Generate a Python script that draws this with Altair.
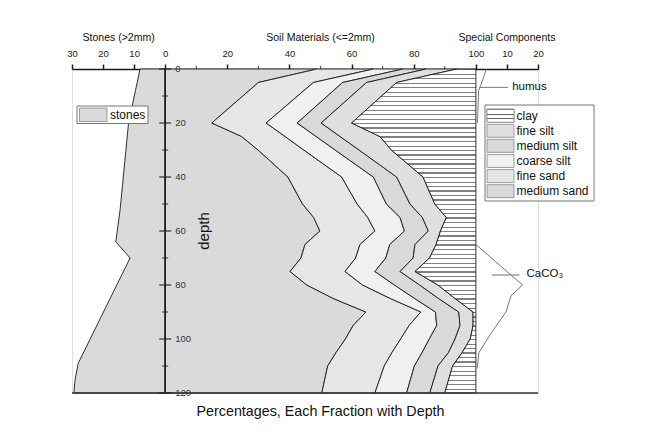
import altair as alt
import pandas as pd

# ---------------- data ----------------
depth = [0, 5, 20, 25, 30, 40, 50, 55, 60, 65, 70, 75, 80, 85, 90, 95, 100, 105, 110, 120]
# cumulative upper boundary (%) of each soil fraction
medium_sand_top = [48.8, 30.0, 15.0, 24.6, 29.9, 39.5, 44.2, 47.8, 49.8, 45.0, 43.7, 40.2, 45.6, 54.1, 64.6, 60.5, 58.0, 55.0, 52.3, 50.4]
fine_sand_top   = [67.0, 47.7, 32.5, 38.6, 44.6, 56.8, 61.8, 65.2, 67.5, 62.7, 61.3, 57.9, 63.5, 72.5, 82.3, 78.5, 75.8, 73.0, 70.5, 67.5]
coarse_silt_top = [76.5, 57.1, 42.5, 48.6, 54.7, 67.0, 71.2, 75.6, 77.0, 72.3, 71.0, 67.5, 73.8, 80.3, 87.0, 87.4, 85.0, 82.7, 80.2, 77.7]
medium_silt_top = [84.0, 64.8, 50.2, 56.3, 62.4, 74.5, 78.8, 82.8, 84.7, 80.4, 79.8, 75.6, 81.9, 88.0, 94.5, 94.9, 93.3, 91.2, 87.8, 85.2]
fine_silt_top   = [93.8, 74.5, 60.0, 69.1, 72.8, 83.0, 86.8, 90.5, 88.6, 87.2, 85.1, 80.4, 87.8, 93.3, 99.1, 99.1, 98.2, 95.6, 92.5, 90.0]
clay_top        = [100] * len(depth)

fractions = ["medium sand", "fine sand", "coarse silt", "medium silt", "fine silt", "clay"]
legend_order = ["clay", "fine silt", "medium silt", "coarse silt", "fine sand", "medium sand"]

stone_depth = [0, 20, 52, 64, 70, 80, 109, 115, 120]
stone_pct   = [8.1, 11.8, 14.5, 15.9, 11.3, 15.6, 28.0, 29.0, 29.4]

humus_depth = [0, 6, 8, 20]
humus_val   = [3.4, 1.6, 0.9, 0.5]

caco3_depth = [65, 80, 84, 90, 98, 105, 111]
caco3_val   = [0.0, 15.0, 11.3, 9.7, 4.8, 1.0, 0.4]

depth_major = [0, 20, 40, 60, 80, 100, 120]
depth_minor = [10, 30, 50, 70, 90, 110]
top_major = [-30, -20, -10, 0, 20, 40, 60, 80, 100, 110, 120]
top_minor = [10, 30, 50, 70, 90]

# ---------------- tables ----------------
rows = []
prev = [0] * len(depth)
for name, top in zip(fractions, [medium_sand_top, fine_sand_top, coarse_silt_top,
                                 medium_silt_top, fine_silt_top, clay_top]):
    for d, lo, hi in zip(depth, prev, top):
        rows.append({"fraction": name, "depth": d, "lo": lo, "hi": hi})
    prev = top
soil = pd.DataFrame(rows)
stones = pd.DataFrame({"depth": stone_depth, "pct": stone_pct})
humus = pd.DataFrame({"depth": humus_depth, "v": humus_val})
caco3 = pd.DataFrame({"depth": caco3_depth, "v": caco3_val})

FONT = "Liberation Sans"
INK = "#1a1a1a"

xs = alt.Scale(domain=[-30, 120], nice=False, zero=False)
ys = alt.Scale(domain=[0, 120], reverse=True, nice=False, zero=False)

STONE_FILL = "#dadada"
fill_colors = [STONE_FILL, "#e6e6e6", "#f0f0f0", "#d9d9d9", "#dfdfdf", "#ffffff"]
fill_scale = alt.Scale(domain=fractions, range=fill_colors)


def stripes(n, frac, line="#808080", bg="#ffffff"):
    stops = []
    for k in range(n):
        a = k / n
        b = (k + frac) / n
        c = (k + 1) / n
        stops += [alt.GradientStop(color=line, offset=a), alt.GradientStop(color=line, offset=b),
                  alt.GradientStop(color=bg, offset=b), alt.GradientStop(color=bg, offset=c)]
    return alt.LinearGradient(gradient="linear", stops=stops, x1=0, x2=0, y1=0, y2=1)


def X(field=None, datum=None, **kw):
    if datum is not None:
        return alt.X(datum=datum, scale=xs, axis=None)
    return alt.X(field, scale=xs, axis=None, **kw)


def Y(field=None, datum=None):
    if datum is not None:
        return alt.Y(datum=datum, scale=ys, axis=None)
    return alt.Y(field, scale=ys, axis=None)


one = pd.DataFrame({"a": [0]})

top_axis = alt.Axis(orient="top", values=top_major,
                    labelExpr="datum.value < 0 ? -datum.value : (datum.value > 100 ? datum.value - 100 : datum.value)",
                    tickSize=5, tickWidth=1.5, tickColor=INK, domainColor=INK, domainWidth=1.5,
                    labelFontSize=9.5, labelPadding=6, labelColor="#222", title=None, grid=False,
                    labelFlush=False, labelOverlap=False, labelFont=FONT)

# stones area (drawn to the left of 0)
stones_area = alt.Chart(stones).transform_calculate(lo="-datum.pct", hi="0").mark_area(
    orient="horizontal", fill=STONE_FILL, stroke=INK, strokeWidth=0.9
).encode(
    x=alt.X("lo:Q", scale=xs, axis=top_axis, stack=None),
    x2="hi:Q",
    y=Y("depth:Q"),
)

soil_areas = alt.Chart(soil).transform_filter("datum.fraction != 'clay'").mark_area(
    orient="horizontal", stroke=INK, strokeWidth=0.9
).encode(
    x=X("lo:Q", stack=None),
    x2="hi:Q",
    y=Y("depth:Q"),
    fill=alt.Fill("fraction:N", scale=fill_scale, legend=None),
)

clay_area = alt.Chart(soil).transform_filter("datum.fraction == 'clay'").mark_area(
    orient="horizontal", fill=stripes(72, 0.27), stroke=INK, strokeWidth=0.9
).encode(
    x=X("lo:Q", stack=None),
    x2="hi:Q",
    y=Y("depth:Q"),
)

# depth axis drawn at soil 0
depth_line = alt.Chart(one).mark_rule(color=INK, strokeWidth=1.5).encode(
    x=X(datum=0), y=Y(datum=0), y2=alt.Y2(datum=120))
bottom_line = alt.Chart(one).mark_rule(color="#333", strokeWidth=1.5).encode(
    y=Y(datum=120), x=X(datum=-30), x2=alt.X2(datum=120))

dmaj = pd.DataFrame({"d": depth_major})
dmin = pd.DataFrame({"d": depth_minor})
tmin = pd.DataFrame({"v": top_minor})

depth_ticks = alt.Chart(dmaj).mark_tick(orient="horizontal", size=12, thickness=1.5, color=INK).encode(
    x=X(datum=0), y=Y("d:Q"))
depth_minor_ticks = alt.Chart(dmin).mark_tick(orient="horizontal", size=6, thickness=1.3, color=INK).encode(
    x=X(datum=0), y=Y("d:Q"))
depth_labels = alt.Chart(dmaj).mark_text(align="left", baseline="middle", dx=10, fontSize=9.5,
                                         color="#333", font=FONT).encode(
    x=X(datum=0), y=Y("d:Q"), text="d:Q")
top_minor_ticks = alt.Chart(tmin).mark_tick(orient="vertical", size=3, thickness=1.2, yOffset=-1.5,
                                            color=INK).encode(x=X("v:Q"), y=Y(datum=0))

# special components
humus_line = alt.Chart(humus).transform_calculate(x="100 + datum.v").mark_line(
    color="#777", strokeWidth=1).encode(x=X("x:Q"), y=Y("depth:Q"), order="depth:Q")
caco3_line = alt.Chart(caco3).transform_calculate(x="100 + datum.v").mark_line(
    color="#777", strokeWidth=1).encode(x=X("x:Q"), y=Y("depth:Q"), order="depth:Q")

humus_leader = alt.Chart(one).mark_rule(color="#777", strokeWidth=1).encode(
    x=X(datum=101.1), x2=alt.X2(datum=110.4), y=Y(datum=6.8))
caco3_leader = alt.Chart(one).mark_rule(color="#888", strokeWidth=1.2).encode(
    x=X(datum=105.1), x2=alt.X2(datum=114.0), y=Y(datum=76.3))


def text(t, x, y, size, **kw):
    return alt.Chart(pd.DataFrame({"t": [t]})).mark_text(fontSize=size, font=FONT, color="#111", **kw).encode(
        x=X(datum=x), y=Y(datum=y), text="t:N")


humus_txt = text("humus", 111.7, 6.8, 11.5, align="left", baseline="middle")
caco3_txt = text("CaCO\u2083", 116.3, 76.0, 11.5, align="left", baseline="middle")
title_st = text("Stones (>2mm)", -15, -11.4, 10.5, align="center", baseline="middle")
title_so = text("Soil Materials (<=2mm)", 50, -11.4, 10.5, align="center", baseline="middle")
title_sp = text("Special Components", 110, -11.4, 10.5, align="center", baseline="middle")
depth_title = text("depth", 12.5, 60, 15, align="center", baseline="middle", angle=270)
bottom_title = text("Percentages, Each Fraction with Depth", 50, 126.9, 14.3, align="center", baseline="middle")

# soil legend (pixel placement inside the plot group)
leg = pd.DataFrame({"name": legend_order, "i": list(range(len(legend_order)))})
leg_box = alt.Chart(one).mark_rect(fill="white", stroke="#777", strokeWidth=1).encode(
    x=alt.value(413), x2=alt.value(522), y=alt.value(36), y2=alt.value(132))
leg_base = alt.Chart(leg).transform_calculate(
    y0="40.2 + datum.i * 15.1", y1="53.2 + datum.i * 15.1", yc="46.9 + datum.i * 15.1")
leg_sw = leg_base.mark_rect(stroke="#888", strokeWidth=0.8).encode(
    x=alt.value(415), x2=alt.value(442),
    y=alt.Y("y0:Q", scale=None), y2="y1:Q",
    fill=alt.Fill("name:N", scale=fill_scale, legend=None))
leg_clay = leg_base.transform_filter("datum.name == 'clay'").mark_rect(
    fill=stripes(3, 0.3, line="#666"), stroke="#888", strokeWidth=0.8).encode(
    x=alt.value(415), x2=alt.value(442), y=alt.Y("y0:Q", scale=None), y2="y1:Q")
leg_txt = leg_base.mark_text(align="left", baseline="middle", fontSize=12, font=FONT, color="#111").encode(
    x=alt.value(444.5), y=alt.Y("yc:Q", scale=None), text="name:N")

# stones legend
st_box = alt.Chart(one).mark_rect(fill="white", stroke="#777", strokeWidth=1).encode(
    x=alt.value(5), x2=alt.value(76), y=alt.value(37), y2=alt.value(54.5))
st_sw = alt.Chart(one).mark_rect(fill=STONE_FILL, stroke="#888", strokeWidth=0.8).encode(
    x=alt.value(7.5), x2=alt.value(35), y=alt.value(39), y2=alt.value(52.5))
st_txt = alt.Chart(pd.DataFrame({"t": ["stones"]})).mark_text(
    align="left", baseline="middle", fontSize=12, font=FONT, color="#111").encode(
    x=alt.value(38), y=alt.value(45.7), text="t:N")

chart = alt.layer(
    stones_area, soil_areas, clay_area,
    humus_line, caco3_line, humus_leader, caco3_leader,
    depth_line, bottom_line, depth_ticks, depth_minor_ticks, depth_labels, top_minor_ticks,
    humus_txt, caco3_txt, title_st, title_so, title_sp, depth_title, bottom_title,
    leg_box, leg_sw, leg_clay, leg_txt, st_box, st_sw, st_txt,
).resolve_axis(x="independent", y="independent").properties(
    width=466, height=324, autosize="none",
    padding={"left": 64, "top": 61, "right": 109, "bottom": 36},
).configure_view(stroke="transparent").configure(font=FONT)

chart.save("out.html", embed_options={"renderer": "svg", "actions": False})
